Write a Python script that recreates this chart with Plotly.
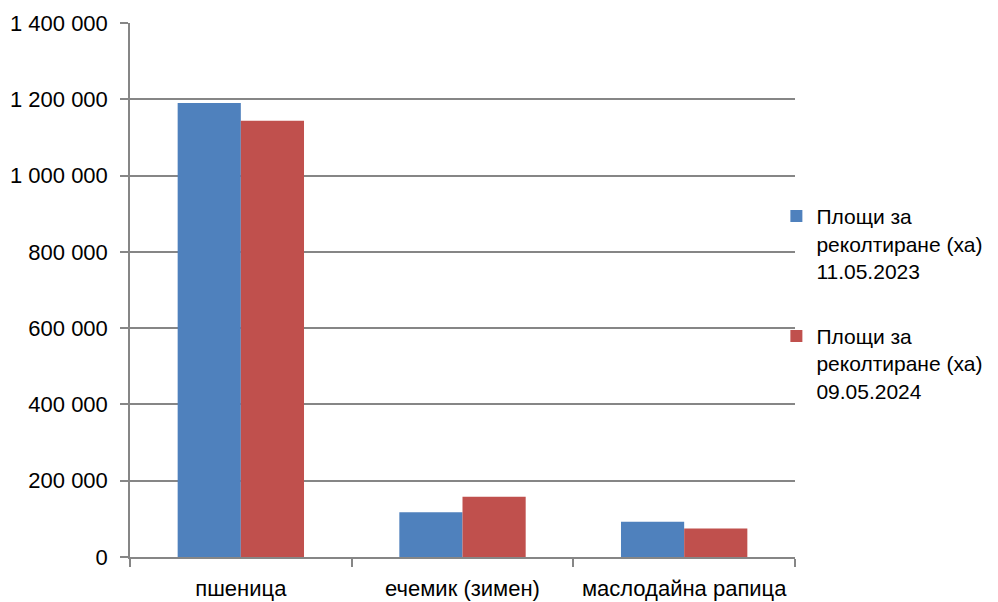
import plotly.graph_objects as go

categories = ["пшеница", "ечемик (зимен)", "маслодайна рапица"]
series_names = ["Площи за<br>реколтиране (ха)<br>11.05.2023",
                "Площи за<br>реколтиране (ха)<br>09.05.2024"]
values_2023 = [1190000, 117000, 92500]
values_2024 = [1143500, 158000, 74500]
colors = ["#4F81BD", "#C0504D"]
y_ticks = [0, 200000, 400000, 600000, 800000, 1000000, 1200000, 1400000]

FONT = "Liberation Sans, Arial, sans-serif"
FS = 22

fig = go.Figure()
for i, (name, vals) in enumerate(zip(series_names, [values_2023, values_2024])):
    fig.add_trace(go.Bar(
        x=categories, y=vals, name=name,
        marker=dict(color=colors[i], line=dict(width=0)),
        legendgroup=f"g{i}",
    ))

fig.update_layout(
    width=990, height=594,
    margin=dict(l=122, r=203, t=15, b=45, autoexpand=False),
    paper_bgcolor="white", plot_bgcolor="white",
    barmode="group", bargap=0.43, bargroupgap=0,
    separators=", ",
    font=dict(family=FONT, size=FS, color="black"),
    legend=dict(
        x=0.972, xanchor="left", y=0.475, yanchor="middle",
        font=dict(family=FONT, size=21, color="black"),
        traceorder="grouped", tracegroupgap=35, valign="top",
        bgcolor="rgba(0,0,0,0)", borderwidth=0,
    ),
)
fig.update_xaxes(
    type="category", tickson="boundaries", ticks="outside", ticklen=8,
    tickcolor="#868686", tickwidth=1.5, tickangle=0,
    showline=True, linecolor="#868686", linewidth=1.5,
    showgrid=False, ticklabelstandoff=11,
    tickfont=dict(family=FONT, size=FS, color="black"),
)
fig.update_yaxes(
    range=[0, 1400000], tickvals=y_ticks, tickformat=",d",
    ticks="outside", ticklen=8, tickcolor="#868686", tickwidth=1.5,
    showline=True, linecolor="#868686", linewidth=1.5,
    showgrid=True, gridcolor="#868686", gridwidth=1.5,
    zeroline=False, ticklabelstandoff=8,
    tickfont=dict(family=FONT, size=FS, color="black"),
)

fig.write_html("out.html")
